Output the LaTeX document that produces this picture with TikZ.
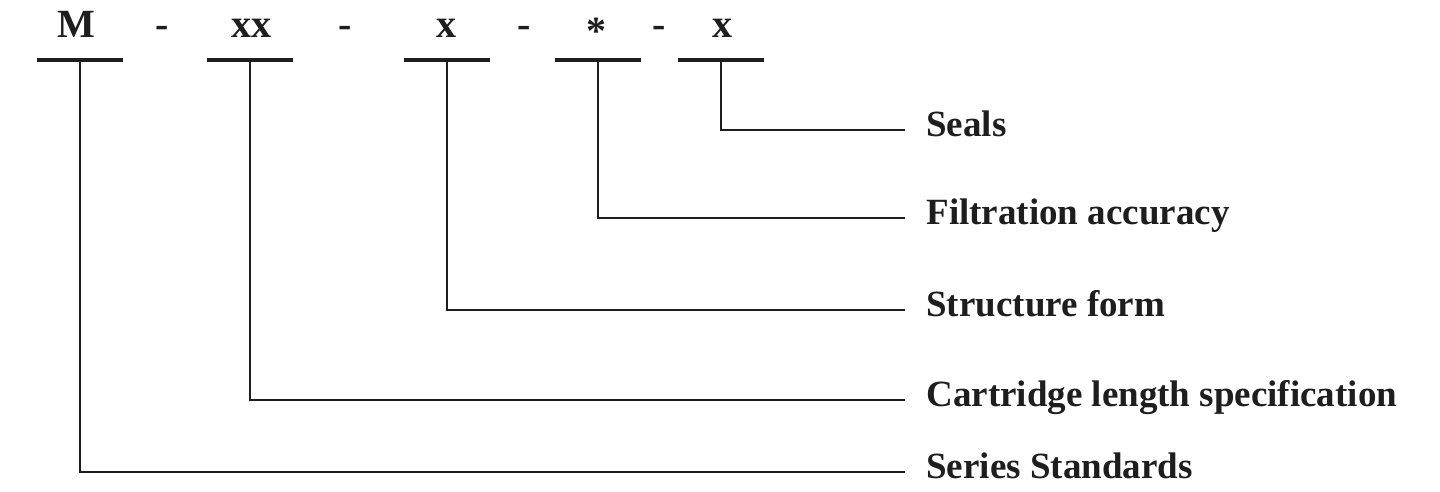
\documentclass[tikz,border=0pt]{standalone}
\usepackage{fontspec}
\setmainfont{Liberation Serif}
\usetikzlibrary{positioning}
\definecolor{ink}{HTML}{1E1E1E}

\begin{document}
\begin{tikzpicture}[x=0.5pt, y=-0.5pt, color=ink,
  code/.style={anchor=base, inner sep=0pt, font=\fontsize{20}{24}\selectfont\bfseries},
  lab/.style={anchor=west, inner xsep=10.5pt, inner ysep=0pt, text height=0.66em, text depth=0pt, font=\fontsize{18.5}{22}\selectfont\bfseries},
  bar/.style={line width=1.6pt},
  conn/.style={line width=1.1pt}]
\useasboundingbox (0,0) rectangle (1440,492);
\node[code] (cm) at (76,38) {M};
\node[code] (d1) at (162,38) {-};
\node[code] (cxx) at (251,38) {xx};
\node[code] (d2) at (345,38) {-};
\node[code] (cx) at (446,38) {x};
\node[code] (d3) at (524,38) {-};
\node[code, anchor=center] (cst) at (596,31) {*};
\node[code] (d4) at (659,38) {-};
\node[code] (cx2) at (722,38) {x};
\foreach \x/\n in {80/1, 250/2, 447/3, 598/4, 721/5} {
  \coordinate (u\n) at (\x,60);
  \draw[bar] (\x-43,60) -- (\x+43,60);
}
\node[lab] (seals) at (905,130) {Seals};
\node[lab] (filt) at (905,218) {Filtration accuracy};
\node[lab] (struct) at (905,310) {Structure form};
\node[lab] (cart) at (905,400) {Cartridge length specification};
\node[lab] (series) at (905,472) {Series Standards};
\draw[conn] (u5) |- (seals.west);
\draw[conn] (u4) |- (filt.west);
\draw[conn] (u3) |- (struct.west);
\draw[conn] (u2) |- (cart.west);
\draw[conn] (u1) |- (series.west);
\end{tikzpicture}
\end{document}
